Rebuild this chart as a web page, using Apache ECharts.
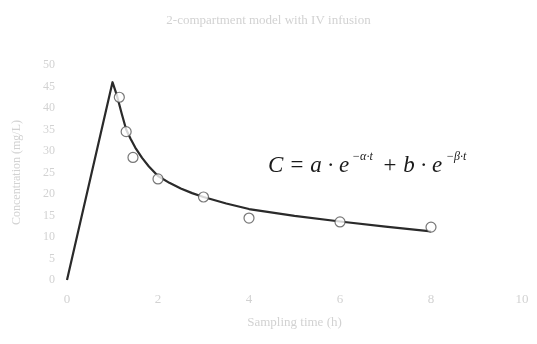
<!DOCTYPE html>
<html>
<head>
<meta charset="utf-8">
<script src="https://cdn.jsdelivr.net/npm/echarts@6/dist/echarts.min.js"></script>
<style>
html, body { margin: 0; padding: 0; background: #fff; }
#chart { width: 537px; height: 344px; }
</style>
</head>
<body>
<div id="chart"></div>
<script>
// measured concentrations (open circles)
var obsTime = [1.15, 1.3, 1.45, 2, 3, 4, 6, 8];
var obsConc = [42.5, 34.5, 28.5, 23.5, 19.3, 14.4, 13.5, 12.3];

// fitted curve
var fitTime = [0, 1, 1.1, 1.2, 1.3, 1.4, 1.5, 1.65, 1.8, 2, 2.25, 2.5, 2.75, 3, 3.5, 4, 5, 6, 7, 8];
var fitConc = [0, 46, 42.8, 38.8, 35, 32.8, 30.8, 28.4, 26.4, 24.2, 22.6, 21.3, 20.2, 19.3, 17.8, 16.5, 14.9, 13.6, 12.4, 11.3];

var xTicks = [0, 2, 4, 6, 8, 10];
var yTicks = [0, 5, 10, 15, 20, 25, 30, 35, 40, 45, 50];

var faint = '#d2d2d2';

var chart = echarts.init(document.getElementById('chart'));
chart.setOption({
  animation: false,
  title: {
    text: '2-compartment model with IV infusion',
    left: 'center',
    top: 9,
    textStyle: { color: faint, fontSize: 13, fontWeight: 'normal', fontFamily: 'Liberation Serif' }
  },
  grid: { left: 67, right: 15, top: 65, bottom: 64 },
  xAxis: {
    type: 'value',
    min: xTicks[0],
    max: xTicks[xTicks.length - 1],
    interval: 2,
    name: 'Sampling time (h)',
    nameLocation: 'middle',
    nameGap: 36,
    nameTextStyle: { color: faint, fontSize: 13, fontFamily: 'Liberation Serif' },
    axisLine: { show: false },
    axisTick: { show: false },
    splitLine: { show: false },
    axisLabel: { color: faint, fontSize: 13, margin: 13, fontFamily: 'Liberation Serif' }
  },
  yAxis: {
    type: 'value',
    min: yTicks[0],
    max: yTicks[yTicks.length - 1],
    interval: 5,
    name: 'Concentration (mg/L)',
    nameLocation: 'middle',
    nameGap: 44,
    nameTextStyle: { color: faint, fontSize: 12, fontFamily: 'Liberation Serif' },
    axisLine: { show: false },
    axisTick: { show: false },
    splitLine: { show: false },
    axisLabel: { color: faint, fontSize: 12, margin: 12, fontFamily: 'Liberation Serif' }
  },
  series: [
    {
      name: 'fit',
      type: 'line',
      data: fitTime.map(function (t, i) { return [t, fitConc[i]]; }),
      smooth: false,
      showSymbol: false,
      lineStyle: { color: '#2a2a2a', width: 2.2, join: 'round' },
      z: 2
    },
    {
      name: 'observed',
      type: 'scatter',
      data: obsTime.map(function (t, i) { return [t, obsConc[i]]; }),
      symbol: 'circle',
      symbolSize: 10,
      itemStyle: { color: '#fff', borderColor: '#555', borderWidth: 1.2 },
      z: 3
    }
  ],
  graphic: [
    {
      type: 'text',
      left: 268,
      top: 154,
      style: { text: 'C = a · e', fill: '#1a1a1a', font: 'italic 23px "Liberation Serif"' }
    },
    {
      type: 'text',
      left: 352,
      top: 151,
      style: { text: '−α·t', fill: '#1a1a1a', font: 'italic 12px "Liberation Serif"' }
    },
    {
      type: 'text',
      left: 382,
      top: 154,
      style: { text: '+ b · e', fill: '#1a1a1a', font: 'italic 23px "Liberation Serif"' }
    },
    {
      type: 'text',
      left: 446,
      top: 151,
      style: { text: '−β·t', fill: '#1a1a1a', font: 'italic 12px "Liberation Serif"' }
    }
  ]
});
</script>
</body>
</html>
